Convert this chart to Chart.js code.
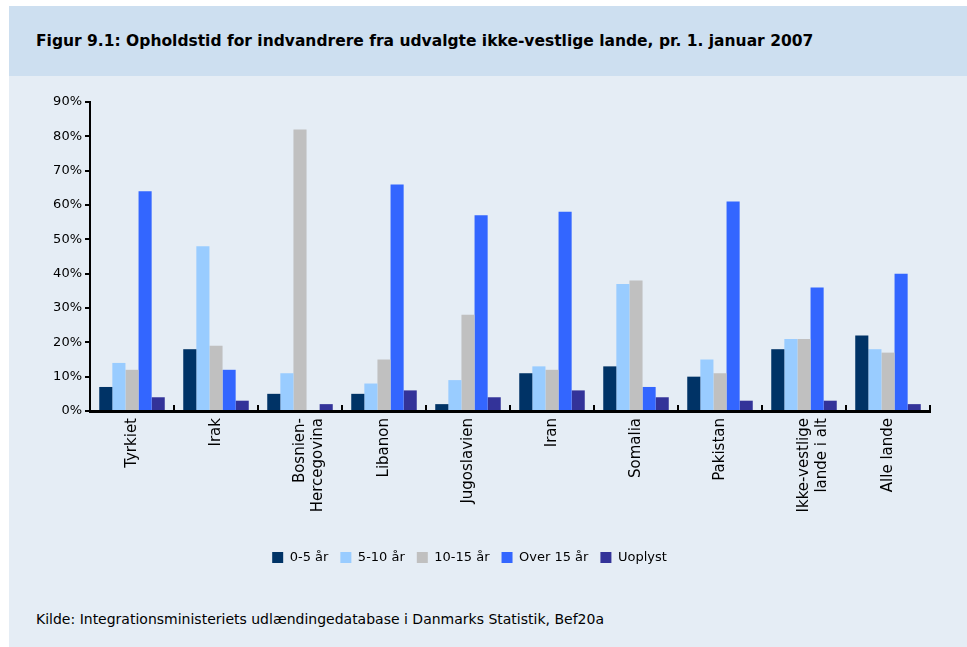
<!DOCTYPE html>
<html>
<head>
<meta charset="utf-8">
<script src="https://cdn.jsdelivr.net/npm/chart.js@4.4.1/dist/chart.umd.min.js"></script>
<style>
  body { margin: 0; background: #ffffff; width: 967px; height: 647px; position: relative; overflow: hidden; }
  #header {
    position: absolute; left: 9px; top: 6px; width: 958px; height: 70px;
    background: #cddff0;
  }
  #header h1 {
    margin: 0; position: absolute; left: 27px; top: 26px;
    font: bold 15.5px "DejaVu Sans", sans-serif; color: #000;
  }
  #panel {
    position: absolute; left: 9px; top: 76px; width: 958px; height: 571px;
    background: #e5edf5;
  }
  #chartBox { position: absolute; left: 0; top: 0; width: 958px; height: 498px; }
  #source {
    position: absolute; left: 27px; top: 535px;
    font: 14px "DejaVu Sans", sans-serif; color: #000;
  }
</style>
</head>
<body>
<div id="header"><h1>Figur 9.1: Opholdstid for indvandrere fra udvalgte ikke-vestlige lande, pr. 1. januar 2007</h1></div>
<div id="panel">
  <div id="chartBox"><canvas id="chart"></canvas></div>
  <div id="source">Kilde: Integrationsministeriets udlændingedatabase i Danmarks Statistik, Bef20a</div>
</div>
<script>
// categories (multi-line labels as arrays)
const countries = [
  "Tyrkiet", "Irak", ["Bosnien-", "Hercegovina"], "Libanon", "Jugoslavien",
  "Iran", "Somalia", "Pakistan", ["Ikke-vestlige", "lande i alt"], "Alle lande"
];

// percent per group
const years0to5   = [7, 18, 5, 5, 2, 11, 13, 10, 18, 22];
const years5to10  = [14, 48, 11, 8, 9, 13, 37, 15, 21, 18];
const years10to15 = [12, 19, 82, 15, 28, 12, 38, 11, 21, 17];
const over15      = [64, 12, 0, 66, 57, 58, 7, 61, 36, 40];
const unknown     = [4, 3, 2, 6, 4, 6, 4, 3, 3, 2];

const font = "'DejaVu Sans', sans-serif";

new Chart(document.getElementById("chart"), {
  type: "bar",
  data: {
    labels: countries,
    datasets: [
      { label: "0-5 år", data: years0to5, backgroundColor: "#003366" },
      { label: "5-10 år", data: years5to10, backgroundColor: "#99ccff" },
      { label: "10-15 år", data: years10to15, backgroundColor: "#c0c0c0" },
      { label: "Over 15 år", data: over15, backgroundColor: "#3366ff" },
      { label: "Uoplyst", data: unknown, backgroundColor: "#333399" },
    ],
  },
  options: {
    responsive: true,
    maintainAspectRatio: false,
    animation: false,
    layout: { padding: { top: 26, right: 37, left: 0, bottom: 0 } },
    datasets: { bar: { categoryPercentage: 0.78, barPercentage: 1.0 } },
    plugins: {
      legend: {
        position: "bottom",
        labels: {
          color: "#000",
          font: { family: font, size: 13 },
          boxWidth: 11,
          boxHeight: 11,
          padding: 12,
        },
      },
      tooltip: { enabled: false },
    },
    scales: {
      x: {
        afterFit: (scale) => { scale.height = 128; },
        border: { color: "#000", width: 3 },
        grid: {
          offset: true,
          drawOnChartArea: false,
          color: "#000",
          lineWidth: 2,
          tickLength: -6, // ticks point up into the plot
        },
        ticks: {
          minRotation: 90,
          maxRotation: 90,
          color: "#000",
          padding: 13,
          font: { family: font, size: 15 },
        },
      },
      y: {
        min: 0,
        max: 90,
        afterFit: (scale) => { scale.width = 81; },
        border: { color: "#000", width: 2 },
        grid: {
          drawOnChartArea: false,
          color: "#000",
          lineWidth: 2,
          tickLength: 5,
        },
        ticks: {
          stepSize: 10,
          color: "#000",
          padding: 3,
          font: { family: font, size: 13 },
          callback: (v) => v + "%",
        },
      },
    },
  },
});
</script>
</body>
</html>
